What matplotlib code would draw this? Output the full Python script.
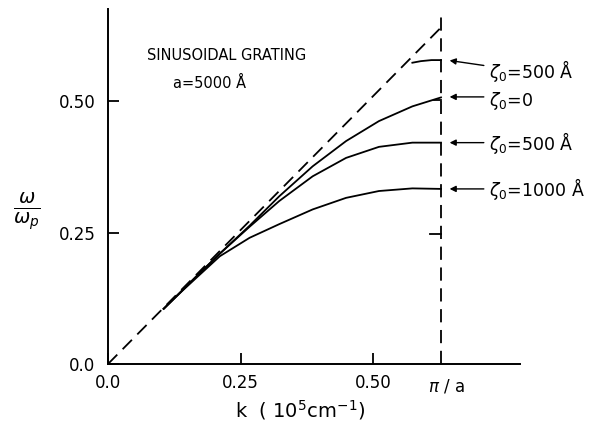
import matplotlib
matplotlib.use('Agg')
import matplotlib.pyplot as plt

plt.rcParams['font.family'] = 'DejaVu Sans'
plt.rcParams['lines.scale_dashes'] = False
plt.rcParams['mathtext.fontset'] = 'dejavusans'

# dispersion curves, k in 10^5 cm^-1, omega / omega_p
k_pts = [0.105, 0.14, 0.17, 0.211, 0.267, 0.323, 0.386, 0.449, 0.511, 0.574, 0.628]
w_z0 = [0.105, 0.140, 0.170, 0.210, 0.263, 0.319, 0.376, 0.424, 0.462, 0.490, 0.507]
w_z500 = [0.105, 0.140, 0.170, 0.210, 0.261, 0.310, 0.357, 0.392, 0.413, 0.421, 0.421]
w_z1000 = [0.105, 0.139, 0.167, 0.205, 0.240, 0.266, 0.294, 0.316, 0.329, 0.334, 0.333]

# upper branch for zeta0 = 500 A
k_up = [0.574, 0.59, 0.61, 0.628]
w_up = [0.573, 0.576, 0.578, 0.578]

# light line and zone boundary
k_light = [0.0, 0.628]
w_light = [0.0, 0.640]
k_zone = 0.628
w_zone_top = 0.67

labels = [r'$\zeta_0$=500 Å', r'$\zeta_0$=0', r'$\zeta_0$=500 Å', r'$\zeta_0$=1000 Å']
label_w = [0.557, 0.500, 0.420, 0.333]
arrow_w = [(0.567, 0.578), (0.508, 0.508), (0.421, 0.421), (0.333, 0.333)]

fig = plt.figure(figsize=(5.92, 4.21), dpi=100)
ax = fig.add_axes([0.1824, 0.1354, 0.696, 0.843])

lw = 1.3
ax.plot(k_light, w_light, color='black', lw=lw, dashes=(9.5, 5.5))
ax.plot([k_zone, k_zone], [0, w_zone_top], color='black', lw=lw, dashes=(9.5, 5.5))
ax.plot(k_pts, w_z0, color='black', lw=lw)
ax.plot(k_pts, w_z500, color='black', lw=lw)
ax.plot(k_pts, w_z1000, color='black', lw=lw)
ax.plot(k_up, w_up, color='black', lw=lw)
# small markers at the zone boundary
ax.plot([0.615, 0.628], [0.502, 0.502], color='black', lw=lw)
ax.plot([0.608, 0.628], [0.248, 0.248], color='black', lw=lw)

ax.set_xlim(0, 0.777)
ax.set_ylim(0, 0.675)
for s in ['top', 'right']:
    ax.spines[s].set_visible(False)
for s in ['left', 'bottom']:
    ax.spines[s].set_linewidth(1.4)

ax.set_xticks([0, 0.25, 0.5])
ax.set_xticklabels(['0.0', '0.25', '0.50'])
ax.set_yticks([0, 0.25, 0.5])
ax.set_yticklabels(['0.0', '0.25', '0.50'])
ax.tick_params(direction='in', length=8, width=1.3, labelsize=12)
ax.tick_params(axis='y', pad=9)
ax.tick_params(axis='x', pad=7)

ax.text(k_zone + 0.01, -0.026, r'$\pi$ / a', ha='center', va='top', fontsize=12)

fig.text(300 / 592, 1 - 410 / 421, r'k  ( 10$^5$cm$^{-1}$)', fontsize=14,
         ha='center', va='center')
fig.text(0.045, 0.498, r'$\frac{\omega}{\omega_p}$', fontsize=20, ha='center', va='center')

ax.text(0.073, 0.586, 'SINUSOIDAL GRATING', fontsize=10.5, ha='left', va='center')
ax.text(0.122, 0.534, 'a=5000 Å', fontsize=10.5, ha='left', va='center')

for lab, ly, (wt, wh) in zip(labels, label_w, arrow_w):
    ax.annotate('', xy=(0.639, wh), xytext=(0.714, wt), annotation_clip=False,
                arrowprops=dict(arrowstyle='-|>', color='black', lw=1.0,
                                mutation_scale=9))
    ax.text(0.718, ly, lab, fontsize=12.5, ha='left', va='center', clip_on=False)

fig.savefig('out.png', dpi=100)
